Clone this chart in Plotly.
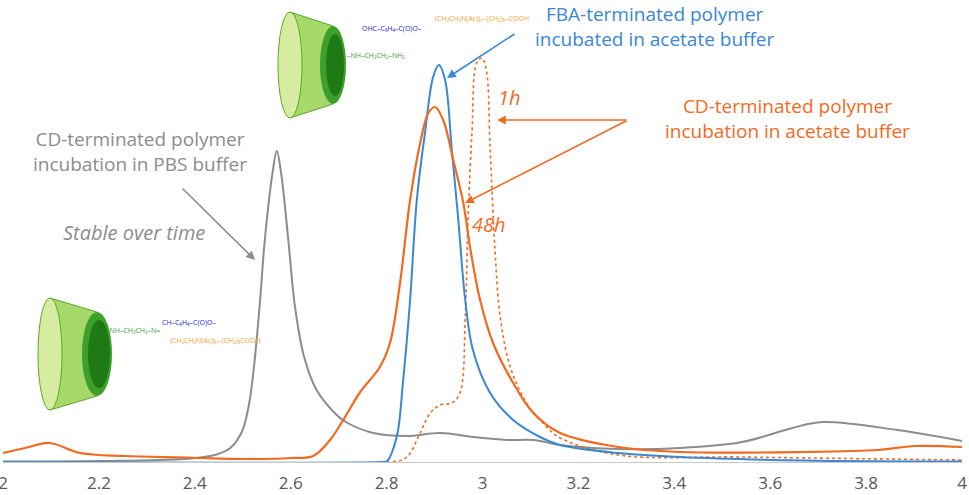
import plotly.graph_objects as go

# retention time (min) and detector signal (arbitrary units)
gray_x = [2.000, 2.202, 2.380, 2.442, 2.474, 2.498, 2.512, 2.522, 2.535, 2.546, 2.562, 2.571,
          2.580, 2.595, 2.609, 2.628, 2.654, 2.696, 2.715, 2.772, 2.842, 2.912, 2.980, 3.051,
          3.106, 3.162, 3.283, 3.412, 3.541, 3.646, 3.709, 3.865, 4.000]
gray_y = [0.5, 1, 3, 7, 14, 30, 55, 89, 155, 222, 289, 311,
          289, 222, 155, 105, 72, 47, 40, 29, 26, 29, 25, 22,
          22, 17, 13, 14, 20, 34, 40, 32, 21]

orange_x = [2.000, 2.046, 2.097, 2.161, 2.252, 2.380, 2.509, 2.601, 2.647, 2.682, 2.707, 2.745,
            2.786, 2.807, 2.828, 2.849, 2.870, 2.887, 2.901, 2.918, 2.939, 2.960, 2.975, 2.995,
            3.022, 3.064, 3.106, 3.162, 3.283, 3.412, 3.671, 3.825, 3.902, 4.000]
orange_y = [9, 14, 19, 9, 6, 4.5, 3, 4, 6, 22, 40, 70,
            95, 119, 179, 262, 319, 349, 355, 342, 302, 259, 212, 162,
            119, 79, 49, 29, 15, 10, 10, 12, 16, 15]

blue_x = [2.000, 2.790, 2.800, 2.821, 2.834, 2.849, 2.863, 2.880, 2.897, 2.909, 2.922, 2.936,
          2.949, 2.964, 2.980, 3.016, 3.064, 3.120, 3.162, 3.283, 3.412, 3.671, 4.000]
blue_y = [0, 0, 0.5, 25, 79, 162, 262, 329, 385, 397, 382, 312,
          245, 162, 112, 69, 42, 25, 17, 9, 5, 1.5, 0.5]

dotted_x = [2.000, 2.807, 2.842, 2.870, 2.891, 2.912, 2.936, 2.953, 2.964, 2.970, 2.978, 2.988,
            2.999, 3.008, 3.016, 3.026, 3.037, 3.058, 3.092, 3.134, 3.162, 3.283, 3.541, 4.000]
dotted_y = [0, 0, 5, 29, 49, 57, 59, 69, 145, 245, 329, 399,
            404, 392, 312, 212, 145, 95, 59, 35, 24, 7, 5, 2]

tick_vals = [2, 2.2, 2.4, 2.6, 2.8, 3, 3.2, 3.4, 3.6, 3.8, 4]
tick_text = ['2', '2.2', '2.4', '2.6', '2.8', '3', '3.2', '3.4', '3.6', '3.8', '4']

GRAY = '#8c8c8c'
ORANGE = '#f26a1f'
BLUE = '#3a87d2'
FONT = 'Open Sans'


def xd(px):
    return 2 + (px - 3) / 479.5


def yd(py):
    return 462 - py


fig = go.Figure()
fig.add_trace(go.Scatter(x=gray_x, y=gray_y, mode='lines', line=dict(color=GRAY, width=2, shape='spline')))
fig.add_trace(go.Scatter(x=dotted_x, y=dotted_y, mode='lines',
                         line=dict(color=ORANGE, width=1.6, dash='dot', shape='spline')))
fig.add_trace(go.Scatter(x=blue_x, y=blue_y, mode='lines', line=dict(color=BLUE, width=2, shape='spline')))
fig.add_trace(go.Scatter(x=orange_x, y=orange_y, mode='lines', line=dict(color=ORANGE, width=2.2, shape='spline')))

ann = []


def text(px, py, s, color, size=20, italic=False, anchor='center'):
    ann.append(dict(x=xd(px), y=yd(py), xref='x', yref='y', text=s, showarrow=False,
                    xanchor=anchor, yanchor='middle',
                    font=dict(family=FONT, size=size, color=color,
                              style='italic' if italic else 'normal')))


def arrow(x0, y0, x1, y1, color):
    ann.append(dict(x=xd(x1), y=yd(y1), xref='x', yref='y', text='', showarrow=True,
                    ax=x0 - x1, ay=y0 - y1, arrowhead=2, arrowsize=1.1, arrowwidth=1.6,
                    arrowcolor=color))


text(655, 26, 'FBA-terminated polymer<br>incubated in acetate buffer', BLUE, size=19)
arrow(516, 33, 447, 78, BLUE)

text(787, 118, 'CD-terminated polymer<br>incubation in acetate buffer', ORANGE, size=19)
arrow(628, 120, 497, 120, ORANGE)
arrow(628, 120, 465, 203, ORANGE)
text(509, 97, '1h', ORANGE, italic=True)
text(489, 224, '48h', ORANGE, italic=True)

text(140, 151, 'CD-terminated polymer<br>incubation in PBS buffer', GRAY, size=19)
text(134, 232, 'Stable over time', GRAY, italic=True)
arrow(181, 187, 255, 260, GRAY)

# chemical structure labels (simplified)
text(345, 55, '–NH–CH₂CH₂–NH₂', '#3a9a3a', size=7, anchor='left')
text(360, 28, 'OHC–C₆H₄–C(O)O–', '#2323d8', size=7, anchor='left')
text(433, 18, '(CH₂CH₂N(Ac))ₙ–(CH₂)₅–COOH', '#f5a030', size=7, anchor='left')
text(104, 330, '–NH–CH₂CH₂–N=', '#3a9a3a', size=7, anchor='left')
text(160, 322, 'CH–C₆H₄–C(O)O–', '#2323d8', size=7, anchor='left')
text(168, 340, '(CH₂CH₂N(Ac))ₙ–(CH₂)₅COOH', '#f5a030', size=7, anchor='left')

shapes = []


def torus(l, t, r, b, face_w):
    # body of the cyclodextrin cone, drawn with the library's shape paths
    shapes.append(dict(type='path', xref='x', yref='y',
                       path=f'M {xd(l + 12)},{yd(t)} L {xd(r - face_w / 2)},{yd(t + 14)} '
                            f'L {xd(r - face_w / 2)},{yd(b - 14)} L {xd(l + 12)},{yd(b)} Z',
                       fillcolor='#a6d86a', line=dict(color='#5aa82a', width=1)))
    shapes.append(dict(type='circle', xref='x', yref='y', x0=xd(l), x1=xd(l + 24), y0=yd(t), y1=yd(b),
                       fillcolor='#d6eca0', line=dict(color='#5aa82a', width=1)))
    shapes.append(dict(type='circle', xref='x', yref='y', x0=xd(r - face_w), x1=xd(r),
                       y0=yd(t + 14), y1=yd(b - 14), fillcolor='#3ca02a', line=dict(width=0)))
    shapes.append(dict(type='circle', xref='x', yref='y', x0=xd(r - face_w + 6), x1=xd(r - 2),
                       y0=yd(t + 22), y1=yd(b - 22), fillcolor='#1e7a14', line=dict(width=0)))


torus(278, 12, 346, 118, 26)
torus(38, 298, 112, 410, 30)

fig.update_layout(
    width=969, height=495,
    margin=dict(l=3, r=7, t=0, b=33, autoexpand=False),
    plot_bgcolor='white', paper_bgcolor='white',
    showlegend=False,
    annotations=ann,
    shapes=shapes,
    xaxis=dict(range=[2, 4], tickvals=tick_vals, ticktext=tick_text, showgrid=False, zeroline=False,
               showline=True, linecolor='#c8c8c8', linewidth=1, ticks='',
               ticklabeloverflow='allow', ticklabelstandoff=6,
               tickfont=dict(family=FONT, size=17, color='#595959')),
    yaxis=dict(range=[0, 462], visible=False, showgrid=False, zeroline=False),
)

# page body has an 8px default margin; remove it so the figure fills the window
fig.write_html("out.html", config={'displayModeBar': False},
               post_script="document.body.style.margin='0';")
